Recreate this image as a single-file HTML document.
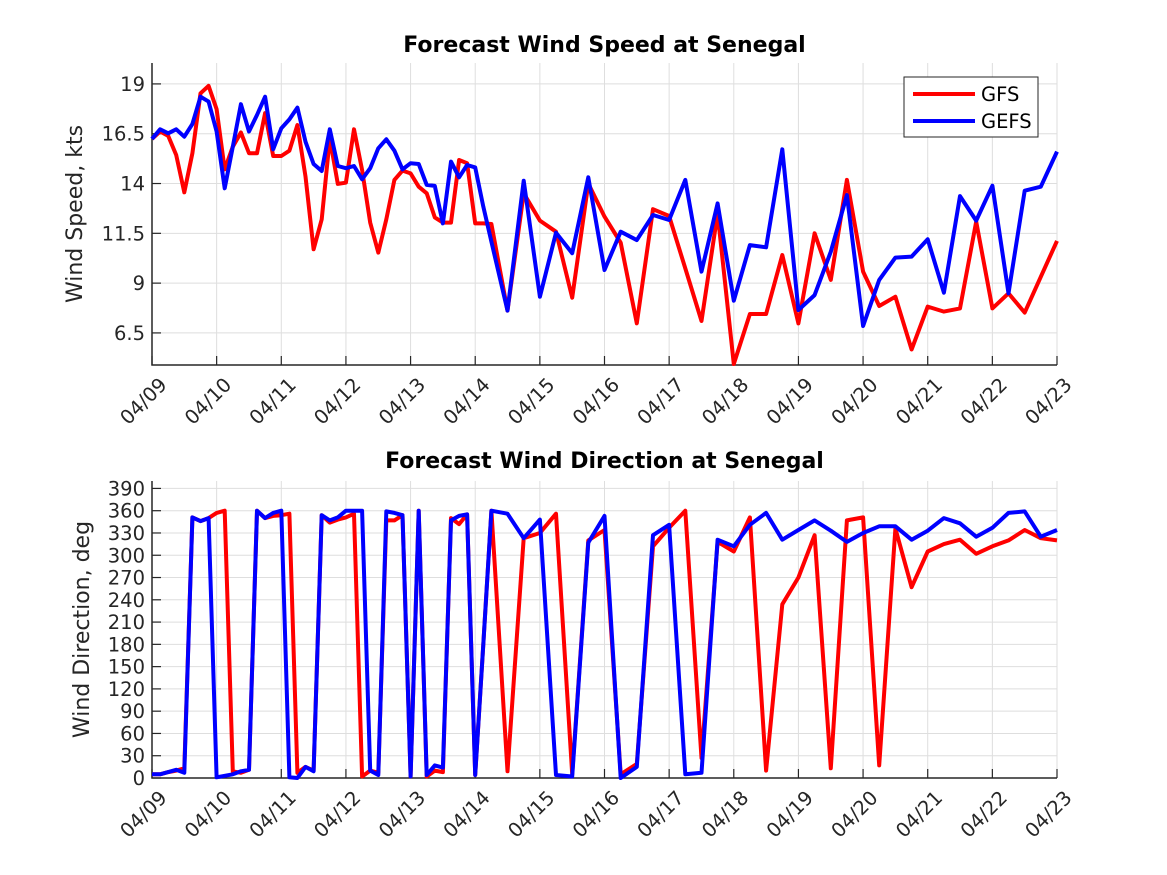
<!DOCTYPE html>
<html><head><meta charset="utf-8"><style>
html,body{margin:0;padding:0;background:#fff;}
svg{display:block;font-family:"DejaVu Sans","Liberation Sans",sans-serif;}
</style></head><body>
<svg id="fig" width="1167" height="875" viewBox="0 0 1167 875" xmlns="http://www.w3.org/2000/svg">
<rect width="1167" height="875" fill="#fff"/>
<g id="top"></g>
<g id="bot"></g>
</svg>
<script>
const dateLabels = ["04/09","04/10","04/11","04/12","04/13","04/14","04/15","04/16","04/17","04/18","04/19","04/20","04/21","04/22","04/23"];
const hours = [0,3,6,9,12,15,18,21,24,27,30,33,36,39,42,45,48,51,54,57,60,63,66,69,72,75,78,81,84,87,90,93,96,99,102,105,108,111,114,117,120,123,126,
132,138,144,150,156,162,168,174,180,186,192,198,204,210,216,222,228,234,240,246,252,258,264,270,276,282,288,294,300,306,312,318,324,330,336];
const gfsSpeed = [16.24,16.61,16.39,15.43,13.56,15.52,18.53,18.90,17.73,14.71,15.85,16.56,15.52,15.52,17.53,15.38,15.38,15.65,16.94,14.35,10.70,12.20,16.27,13.98,14.04,16.72,14.68,12.04,10.53,12.20,14.18,14.65,14.51,13.84,13.51,12.30,12.04,12.04,15.18,15.02,12.00,12.00,11.97,
7.62,13.51,12.14,11.58,8.27,14.0,12.34,11.03,6.98,12.71,12.37,9.74,7.10,12.50,4.94,7.45,7.45,10.41,6.98,11.50,9.16,14.18,9.58,7.85,8.32,5.67,7.82,7.57,7.73,12.09,7.73,8.49,7.52,9.32,11.12];
const gefsSpeed = [16.24,16.72,16.52,16.72,16.35,16.99,18.36,18.11,16.61,13.76,15.85,17.98,16.61,17.44,18.36,15.72,16.77,17.22,17.81,16.10,14.98,14.63,16.72,14.88,14.77,14.88,14.21,14.77,15.77,16.22,15.65,14.71,15.02,14.98,13.93,13.88,12.00,15.10,14.31,14.93,14.81,12.84,11.08,
7.62,14.14,8.32,11.53,10.50,14.31,9.66,11.58,11.16,12.42,12.17,14.18,9.58,13.00,8.12,10.91,10.80,15.72,7.65,8.40,10.58,13.42,6.85,9.16,10.28,10.33,11.20,8.52,13.37,12.14,13.89,8.49,13.64,13.84,15.60];
const gfsDir = [5,5,8,10,13,351,346,350,357,360,9,7,11,360,350,353,354,356,7,15,10,354,344,348,351,356,2,10,7,347,347,354,2,360,2,10,8,350,342,355,4,180,
360,9,323,330,356,5,320,334,5,19,312,337,360,27,318,305,351,10,234,270,327,13,347,351,17,336,257,305,315,321,302,312,320,334,323,320];
const gefsDir = [5,5,8,11,7,351,346,350,1,3,5,9,11,360,350,357,360,1,0,15,9,354,347,351,360,360,360,10,4,359,357,354,2,360,4,17,14,347,353,355,4,180,
360,356,323,348,4,2,317,353,0,15,327,341,5,7,321,312,341,357,321,334,347,333,318,330,339,339,321,333,350,343,325,337,357,359,325,334];
const speedTicks = [6.5,9,11.5,14,16.5,19];
const speedTickLabels = ["6.5","9","11.5","14","16.5","19"];
const dirTicks = [0,30,60,90,120,150,180,210,240,270,300,330,360,390];

const NS="http://www.w3.org/2000/svg";
function mk(tag, attrs, parent, text){
  const e=document.createElementNS(NS,tag);
  for(const k in attrs) e.setAttribute(k,attrs[k]);
  if(text!==undefined) e.textContent=text;
  parent.appendChild(e); return e;
}
const X0=152, X1=1057;
function xs(h){ return X0 + h/336*(X1-X0); }

function drawAxes(g, top, bot, ymin, ymax, ticks, tickLabels, title, ylabel, titleY, ylabX){
  const ys = v => bot - (v-ymin)/(ymax-ymin)*(bot-top);
  for(let i=0;i<dateLabels.length;i++){
    const x=xs(i*24);
    const gl=mk('line',{x1:x,x2:x,y1:top,y2:bot,stroke:'#dedede','stroke-width':1},g);
    
    
  }
  ticks.forEach(v=>{
    const y=ys(v);
    const gl=mk('line',{x1:X0,x2:X1,y1:y,y2:y,stroke:'#dedede','stroke-width':1},g);
    
    
  });
  const ax=mk('path',{d:`M${X0},${top} L${X0},${bot} L${X1},${bot}`,fill:'none',stroke:'#262626','stroke-width':1.5},g);
  
  
  ticks.forEach((v,i)=>{
    const y=ys(v);
    mk('line',{x1:X0,x2:X0+9,y1:y,y2:y,stroke:'#262626','stroke-width':1.2},g);
    const t=mk('text',{x:X0-7,y:y+7,'text-anchor':'end','font-size':19.5,fill:'#262626'},g,tickLabels[i]);
    
    
  });
  dateLabels.forEach((lab,i)=>{
    const x=xs(i*24);
    mk('line',{x1:x,x2:x,y1:bot,y2:bot-9,stroke:'#262626','stroke-width':1.2},g);
    const bx=x+16, by=bot+21;
    const t=mk('text',{x:bx,y:by,'text-anchor':'end','font-size':19.5,fill:'#262626',transform:`rotate(-45 ${bx} ${by})`},g,lab);
    
    
  });
  const tt=mk('text',{x:(X0+X1)/2,y:titleY,'text-anchor':'middle','font-size':22,'font-weight':'bold',fill:'#000'},g,title);
  
  
  const cy=(top+bot)/2;
  const yl=mk('text',{x:ylabX,y:cy,'text-anchor':'middle','font-size':22,fill:'#262626',transform:`rotate(-90 ${ylabX} ${cy})`},g,ylabel);
  
  
  return ys;
}
function series(g, vals, ys, color, name){
  const d=vals.map((v,i)=>(i?'L':'M')+xs(hours[i]).toFixed(1)+','+ys(v).toFixed(1)).join(' ');
  const p=mk('path',{d:d,fill:'none',stroke:color,'stroke-width':4,'stroke-linejoin':'round'},g);
  
  
}
const gt=document.getElementById('top');
const ysT=drawAxes(gt,63,365,4.89,20.05,speedTicks,speedTickLabels,'Forecast Wind Speed at Senegal','Wind Speed, kts',52,82);
series(gt,gfsSpeed,ysT,'#ff0000','gfs-speed-line');
series(gt,gefsSpeed,ysT,'#0000ff','gefs-speed-line');
const lg=mk('g',{},gt);


mk('rect',{x:904,y:77,width:134,height:60,fill:'#fff',stroke:'#262626','stroke-width':1},lg);
mk('line',{x1:913,x2:975,y1:94,y2:94,stroke:'#ff0000','stroke-width':4},lg);
const l1=mk('text',{x:981,y:101,'font-size':19.5,fill:'#000'},lg,'GFS');


mk('line',{x1:913,x2:975,y1:121,y2:121,stroke:'#0000ff','stroke-width':4},lg);
const l2=mk('text',{x:981,y:128,'font-size':19.5,fill:'#000'},lg,'GEFS');


const gb=document.getElementById('bot');
const ysB=drawAxes(gb,481,778,0,400,dirTicks,dirTicks.map(String),'Forecast Wind Direction at Senegal','Wind Direction, deg',468,89);
series(gb,gfsDir,ysB,'#ff0000','gfs-direction-line');
series(gb,gefsDir,ysB,'#0000ff','gefs-direction-line');
</script>
</body></html>
